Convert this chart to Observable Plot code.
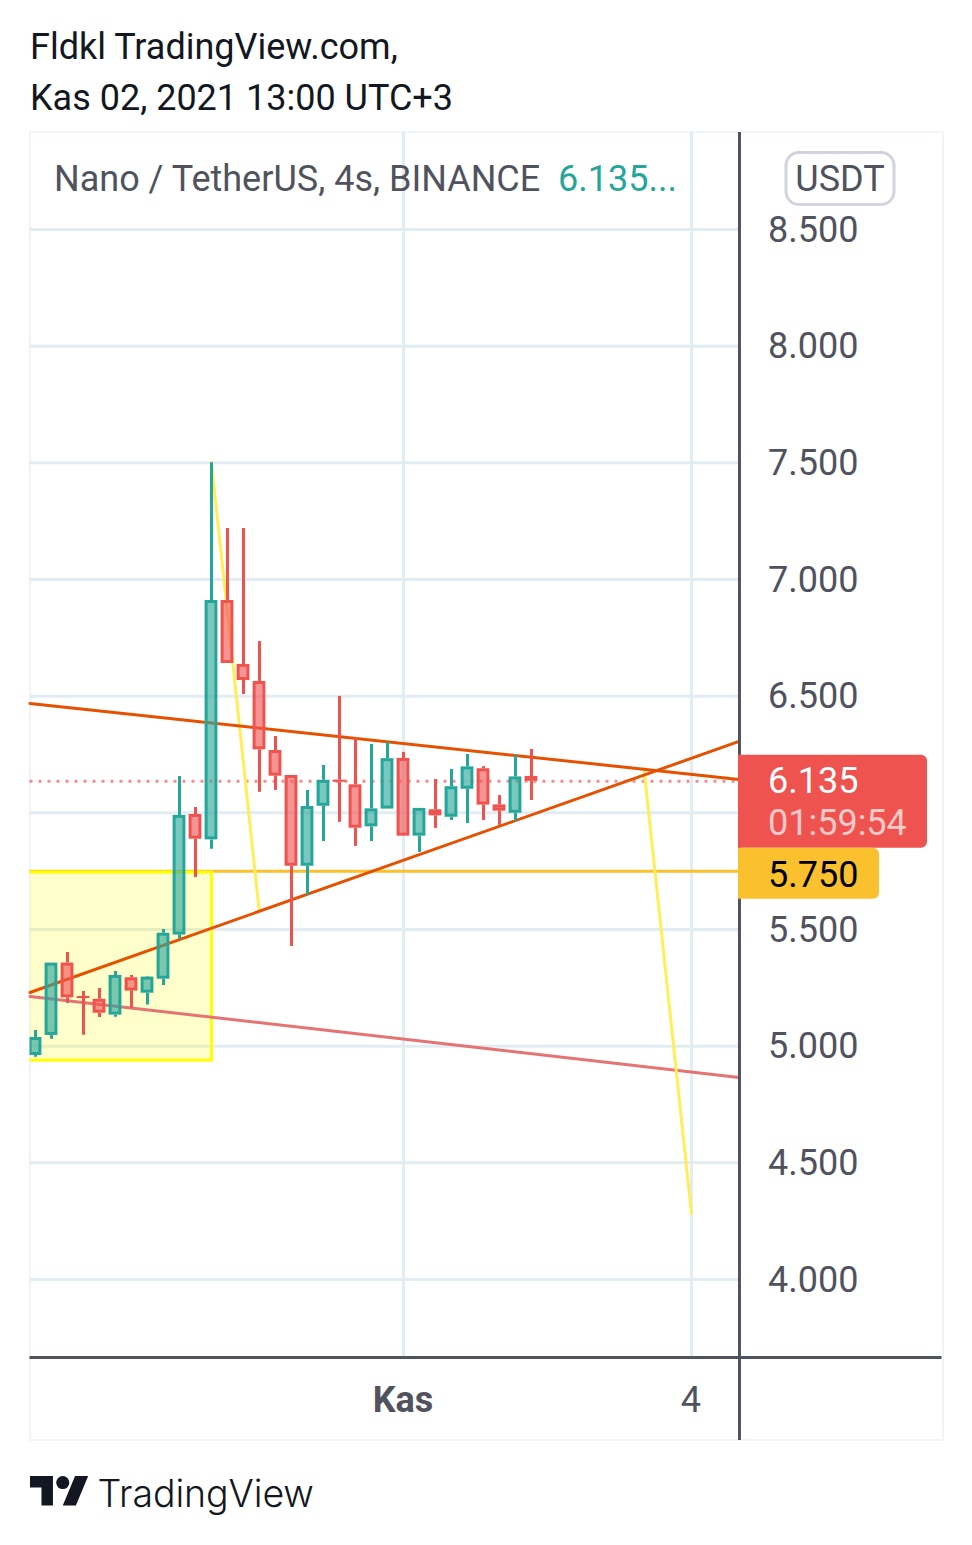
<!DOCTYPE html>
<html><head><meta charset="utf-8">
<script src="https://cdn.jsdelivr.net/npm/d3@7"></script>
<script src="https://cdn.jsdelivr.net/npm/@observablehq/plot@0.6"></script>
<style>
html,body{margin:0;padding:0;background:#fff;width:972px;height:1545px;overflow:hidden;font-family:Roboto,sans-serif}
#title{position:absolute;left:30px;top:22px;font-size:36px;line-height:51px;color:#131722;white-space:pre}
#frame{position:absolute;left:29px;top:131px;width:911px;height:1306px;border:2px solid #f0f3fa}
#chart{position:absolute;left:0;top:132px}
#foot{position:absolute;left:30px;top:1476px;height:36px;color:#131722}
#foot span{position:absolute;left:67.5px;top:-1px;font-family:Inter,sans-serif;font-weight:300;font-size:37.5px;line-height:38px;white-space:nowrap;letter-spacing:-.1px}
</style></head><body>
<div id="title">Fldkl TradingView.com,
Kas 02, 2021 13:00 UTC+3</div>
<div id="frame"></div>
<div id="chart"></div>
<div id="foot"><svg width="59" height="29.5" viewBox="0 4 36 18" style="display:block;position:absolute;left:0;top:0"><path fill="#131722" d="M14 22H7V11H0V4h14v18zM28 22h-8l7.500-18h8L28 22z"/><circle fill="#131722" cx="20" cy="8" r="4"/></svg><span>TradingView</span></div>
<script>
const opens  = [4.960,5.046,5.356,5.213,5.201,5.133,5.293,5.227,5.287,5.476,5.993,5.884,6.910,6.636,6.563,6.267,6.160,5.771,6.028,6.140,6.120,5.940,6.016,6.233,5.900,6.013,5.981,6.101,6.189,6.034,5.998,6.156];
const closes = [5.037,5.356,5.207,5.204,5.141,5.303,5.236,5.296,5.484,5.989,5.887,6.910,6.640,6.567,6.270,6.157,5.771,6.027,6.139,6.131,5.934,6.017,6.232,5.900,6.019,5.987,6.112,6.197,6.033,6.007,6.154,6.135];
const highs  = [5.067,5.356,5.401,5.234,5.247,5.320,5.303,5.299,5.500,6.156,6.023,7.500,7.219,7.219,6.734,6.327,6.160,6.096,6.203,6.499,6.319,6.293,6.301,6.259,6.019,6.143,6.186,6.250,6.198,6.074,6.246,6.271];
const lows   = [4.953,5.030,5.183,5.047,5.123,5.124,5.161,5.176,5.260,5.458,5.723,5.844,6.640,6.507,6.088,6.096,5.427,5.646,5.877,5.959,5.856,5.877,6.016,5.900,5.830,5.933,5.967,5.954,5.967,5.946,5.963,6.053];
const yTicks = [4,4.5,5,5.5,6,6.5,7,7.5,8,8.5];
const xGrid = [23,41];
const xLabelBold = [{i:23,label:"Kas"}];
const xLabelPlain = [{i:41,label:"4"}];
const upperTrend = [{i:-0.344,v:6.469},{i:43.97,v:6.143}];
const lowerTrend = [{i:-0.344,v:5.230},{i:43.97,v:6.306}];
const pinkTrend  = [{i:-0.344,v:5.213},{i:43.97,v:4.866}];
const yellowA = [{i:11,v:7.500},{i:13.97,v:5.586}];
const yellowB = [{i:38.03,v:6.190},{i:41,v:4.283}];
const box = [{i1:-2,i2:11.03,v1:4.938,v2:5.744}];
const lastPrice = 6.135, alertPrice = 5.750;
const xDomain = [-0.344,43.97], yDomain = [3.6657,8.9157];
const GREEN="#26a69a", RED="#ef5350", INK="#50535e", FONT="Roboto, sans-serif";

const candles = opens.map((o,i)=>({i,o,c:closes[i],h:highs[i],l:lows[i],col:closes[i]>=o?GREEN:RED}));
const thick = candles.filter(d=>Math.abs(d.o-d.c)>0.016);
const thin = candles.filter(d=>Math.abs(d.o-d.c)<=0.016);

function overlay(index,{y},channels,dim){
  const g=d3.create("svg:g").attr("font-family",FONT).attr("font-size",36).attr("text-anchor","start");
  const L=dim.width-dim.marginRight;
  const tag=(x,y0,y1,w,fill)=>g.append("path").attr("fill",fill).attr("d",`M${x} ${y0}h${w-6}a6 6 0 0 1 6 6v${y1-y0-12}a6 6 0 0 1 -6 6h${-(w-6)}z`);
  const yl=y(lastPrice), ya=y(alertPrice);
  tag(L-0.5,yl-26,yl+67,189,RED);
  tag(L-0.5,yl+67,ya+28,141,"#fbc02d");
  const t=(s,x,yy,f,o=1)=>g.append("text").attr("x",x).attr("y",yy).attr("fill",f).attr("fill-opacity",o).attr("dominant-baseline","central").text(s);
  t(d3.format(".3f")(lastPrice),L+29.5,yl+0.5,"#fff");
  t("01:59:54",L+29.5,yl+42,"#fff",.7);
  t(d3.format(".3f")(alertPrice),L+29.5,ya+4,"#000");
  g.append("rect").attr("x",786).attr("y",20.500).attr("width",108).attr("height",52).attr("rx",13).attr("fill","#fff").attr("stroke","#d1d4dc").attr("stroke-width",3);
  t("USDT",840,47,INK).attr("text-anchor","middle");
  return g.node();
}

const chart = Plot.plot({
  width:972,height:1308,marginLeft:29.5,marginRight:233.5,marginTop:0,marginBottom:83,
  style:{background:"transparent",fontFamily:FONT,overflow:"visible"},
  x:{type:"linear",domain:xDomain,axis:null},
  y:{type:"linear",domain:yDomain,axis:null},
  color:{type:"identity"},
  marks:[
    Plot.ruleY(yTicks,{stroke:"#e1ecf3",strokeWidth:3}),
    Plot.ruleX(xGrid,{stroke:"#e1ecf3",strokeWidth:3}),
    Plot.ruleY([lastPrice],{stroke:RED,strokeWidth:3,strokeOpacity:.65,strokeDasharray:"3,6"}),
    Plot.ruleY([alertPrice],{stroke:"#fbc02d",strokeWidth:3}),
    Plot.rect(box,{x1:"i1",x2:"i2",y1:"v1",y2:"v2",fill:"#ffff00",fillOpacity:.2,stroke:"#ffff00",strokeWidth:3,clip:true}),
    Plot.line(pinkTrend,{x:"i",y:"v",stroke:"#e57373",strokeWidth:3}),
    Plot.line(yellowA,{x:"i",y:"v",stroke:"#ffee58",strokeWidth:3}),
    Plot.line(yellowB,{x:"i",y:"v",stroke:"#ffee58",strokeWidth:3}),
    Plot.line(upperTrend,{x:"i",y:"v",stroke:"#e65100",strokeWidth:3}),
    Plot.line(lowerTrend,{x:"i",y:"v",stroke:"#e65100",strokeWidth:3}),
    Plot.ruleX(candles,{x:"i",y1:d=>Math.max(d.o,d.c),y2:"h",stroke:"col",strokeWidth:3,clip:true}),
    Plot.ruleX(candles,{x:"i",y1:"l",y2:d=>Math.min(d.o,d.c),stroke:"col",strokeWidth:3,clip:true}),
    Plot.rect(thick,{x1:d=>d.i-0.4,x2:d=>d.i+0.4,y1:"o",y2:"c",inset:1.5,fill:"col",fillOpacity:.62,stroke:"col",strokeWidth:3,clip:true}),
    Plot.rect(thin,{x1:d=>d.i-0.4,x2:d=>d.i+0.4,y1:"o",y2:"c",fill:"col",clip:true}),
    Plot.axisY(yTicks,{anchor:"right",tickSize:0,tickPadding:29,dy:0.6,tickFormat:d3.format(".3f"),fontSize:36,fill:INK,label:null}),
    Plot.text(xLabelBold,{x:"i",text:"label",frameAnchor:"bottom",lineAnchor:"middle",dx:-0.5,dy:43,fontSize:36,fontWeight:"bold",fill:INK}),
    Plot.text(xLabelPlain,{x:"i",text:"label",frameAnchor:"bottom",lineAnchor:"middle",dx:-0.5,dy:43,fontSize:36,fill:INK}),
    Plot.text(["Nano / TetherUS, 4s, BINANCE"],{text:d=>d,frameAnchor:"top-left",textAnchor:"start",lineAnchor:"middle",dx:24,dy:47,fontSize:36,fill:INK}),
    Plot.text(["6.135..."],{text:d=>d,frameAnchor:"top-left",textAnchor:"start",lineAnchor:"middle",dx:528,dy:47,fontSize:36,fill:GREEN}),
    Plot.ruleX([44],{y1:yDomain[1],y2:3.310,stroke:INK,strokeWidth:3}),
    Plot.ruleY([yDomain[0]],{x1:xDomain[0],x2:56.66,stroke:INK,strokeWidth:3}),
    overlay
  ]
});
document.getElementById("chart").appendChild(chart);
</script>
</body></html>
